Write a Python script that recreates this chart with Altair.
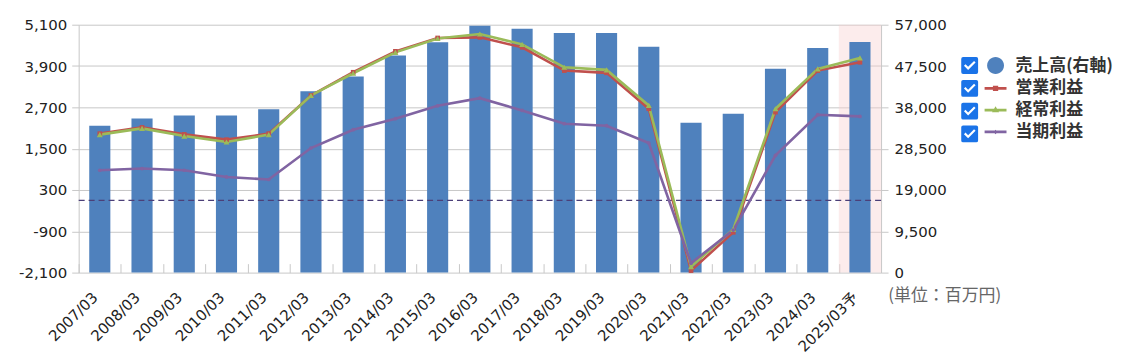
import altair as alt
import pandas as pd

# ---------------- data ----------------
categories = ["2007/03", "2008/03", "2009/03", "2010/03", "2011/03", "2012/03",
              "2013/03", "2014/03", "2015/03", "2016/03", "2017/03", "2018/03",
              "2019/03", "2020/03", "2021/03", "2022/03", "2023/03", "2024/03",
              "2025/03予"]
sales = [33780, 35460, 36140, 36140, 37590, 41720, 45080, 49900, 52950, 56770,
         56080, 55100, 55100, 51960, 34470, 36530, 46850, 51660, 53030]
op_profit = [1936, 2118, 1915, 1762, 1936, 3045, 3719, 4327, 4715, 4733,
             4443, 3768, 3702, 2660, -2042, -930, 2561, 3768, 4009]
ord_profit = [1907, 2089, 1866, 1693, 1907, 3045, 3690, 4298, 4700, 4830,
              4530, 3864, 3788, 2755, -1926, -843, 2660, 3817, 4136]
net_profit = [873, 922, 873, 679, 604, 1519, 2051, 2370, 2746, 2966,
              2610, 2225, 2167, 1664, -1828, -864, 1307, 2486, 2437]
series_names = ["売上高(右軸)", "営業利益", "経常利益", "当期利益"]
series_colors = ["#4f81bd", "#c0504d", "#9bbb59", "#8064a2"]
left_ticks = [-2100, -900, 300, 1500, 2700, 3900, 5100]
right_ticks = [0, 9500, 19000, 28500, 38000, 47500, 57000]
baseline_values = [0]
forecast_categories = ["2025/03予"]
checkbox_keys = ["chk_" + n for n in series_names]
unit_label = "(単位：百万円)"

# ---------------- styling ----------------
W, H = 806, 249
STEP = W / len(categories)
FONT_NUM = "DejaVu Sans, Noto Sans CJK JP"
FONT_JP = "Noto Sans CJK JP"
GRID = "#c8c8c8"
LABEL = "#222222"
CHECK_BLUE = "#1a73e8"

SYM_CIRCLE = "M0.77,0A0.77,0.77,0,1,1,-0.77,0A0.77,0.77,0,1,1,0.77,0Z"
SYM_SQ = "M-1,-0.13H1V0.13H-1Z M-0.24,-0.24H0.24V0.24H-0.24Z"
SYM_TRI = "M-1,-0.13H1V0.13H-1Z M0,-0.36L0.32,0.2H-0.32Z"
SYM_DOT = "M-1,-0.13H1V0.13H-1Z M0,-0.2L0.2,0L0,0.2L-0.2,0Z"
CHECK_PATH = ("M-0.77,-0.6Q-0.77,-0.77,-0.6,-0.77H0.6Q0.77,-0.77,0.77,-0.6V0.6"
              "Q0.77,0.77,0.6,0.77H-0.6Q-0.77,0.77,-0.77,0.6Z "
              "M-0.52,0.02L-0.14,0.40L0.54,-0.28L0.40,-0.42L-0.14,0.12L-0.38,-0.12Z")
LEFT_LABEL = "(datum.value < 0 ? '-' : '') + format(abs(datum.value), ',d')"

sales_df = pd.DataFrame({"cat": categories, "sales": sales})
profit_df = pd.DataFrame({
    "cat": categories * 3,
    "series": [series_names[1]] * len(categories) + [series_names[2]] * len(categories)
              + [series_names[3]] * len(categories),
    "value": op_profit + ord_profit + net_profit,
})
legend_df = pd.DataFrame({"series": series_names, "chk": checkbox_keys})


def xenc():
    return alt.X(
        "cat:N", sort=categories,
        scale=alt.Scale(domain=categories, paddingInner=0.5, paddingOuter=0.25),
        axis=alt.Axis(title=None, labelAngle=-45, labelFont=FONT_NUM, labelFontSize=15,
                      labelColor=LABEL, domain=False, ticks=True, tickSize=9,
                      tickColor=GRID, tickWidth=1, offset=-9, tickOffset=-STEP / 2,
                      labelOffset=STEP / 2 - 10, labelPadding=17, grid=False),
    )


def yleft(field="value:Q"):
    return alt.Y(
        field, scale=alt.Scale(domain=[-2100, 5100], nice=False, zero=False),
        axis=alt.Axis(orient="left", values=left_ticks, labelExpr=LEFT_LABEL, title=None,
                      grid=True, gridColor=GRID, gridWidth=1, domainColor=GRID,
                      tickColor=GRID, tickSize=7, labelPadding=5, labelFont=FONT_NUM,
                      labelFontSize=15, labelColor=LABEL),
    )


yright = alt.Y(
    "sales:Q", scale=alt.Scale(domain=[0, 57000], nice=False),
    axis=alt.Axis(orient="right", values=right_ticks, format=",d", title=None, grid=False,
                  domainColor=GRID, tickColor=GRID, tickSize=7, labelPadding=6,
                  labelFont=FONT_NUM, labelFontSize=15, labelColor=LABEL),
)

# ---------------- right-axis group (bars) ----------------
band = alt.Chart(pd.DataFrame({"cat": forecast_categories})).mark_bar(
    width=alt.RelativeBandSize(2), color="#f7cfcf", opacity=0.4
).encode(x=xenc(), y=alt.value(0), y2=alt.value(H))

bars = alt.Chart(sales_df).mark_bar(color=series_colors[0]).encode(x=xenc(), y=yright)

right = alt.layer(band, bars)

# ---------------- left-axis group (lines) ----------------
zero = alt.Chart(pd.DataFrame({"value": baseline_values})).mark_rule(
    color="#4b3f78", strokeDash=[6, 4], strokeWidth=1.3
).encode(y=yleft())

line_layers = []
point_layers = []
for name, color, shape, size in [
    (series_names[1], series_colors[1], "square", 22),
    (series_names[2], series_colors[2], "triangle-up", 36),
    (series_names[3], series_colors[3], "circle", 14),
]:
    base = alt.Chart(profit_df).transform_filter(alt.datum.series == name)
    line_layers.append(base.mark_line(color=color, strokeWidth=2.6).encode(x=xenc(), y=yleft()))
    point_layers.append(base.mark_point(color=color, filled=True, shape=shape, size=size,
                                        opacity=1).encode(x=xenc(), y=yleft()))

main_legend = alt.Legend(
    title=None, orient="none", legendX=910, legendY=30, symbolSize=484,
    symbolStrokeWidth=0, labelFont=FONT_JP, labelFontSize=17, labelFontWeight="bold",
    labelColor="#333333", labelOffset=9, rowPadding=2.9, padding=0, symbolOpacity=1,
)
legend_layer = alt.Chart(legend_df).transform_filter("false").mark_point(filled=True).encode(
    color=alt.Color("series:N", scale=alt.Scale(domain=series_names, range=series_colors),
                    legend=main_legend),
    shape=alt.Shape("series:N", scale=alt.Scale(domain=series_names,
                                               range=[SYM_CIRCLE, SYM_SQ, SYM_TRI, SYM_DOT]),
                    legend=main_legend),
)
check_layer = alt.Chart(legend_df).transform_filter("false").mark_point(filled=True).encode(
    fill=alt.Fill("chk:N", scale=alt.Scale(domain=checkbox_keys, range=[CHECK_BLUE] * 4),
                  legend=alt.Legend(title=None, orient="none", legendX=884, legendY=30,
                                    symbolType=CHECK_PATH, symbolSize=484,
                                    symbolStrokeWidth=0, labelExpr="' '", labelFontSize=17,
                                    labelFont=FONT_JP, rowPadding=2.9, padding=0,
                                    symbolOpacity=1)),
)

unit_text = alt.Chart(pd.DataFrame({"t": [unit_label]})).mark_text(
    font=FONT_JP, fontSize=17, color="#666666", align="center", baseline="middle"
).encode(text="t:N", x=alt.value(870), y=alt.value(H + 24))

left = alt.layer(zero, *line_layers, *point_layers, legend_layer, check_layer, unit_text)

chart = alt.layer(right, left).resolve_scale(y="independent").properties(
    width=W, height=H, padding={"left": 10, "top": 9, "right": 5, "bottom": 5}
).configure_view(stroke=None)

chart.save("out.html", embed_options={"renderer": "svg", "actions": False})
